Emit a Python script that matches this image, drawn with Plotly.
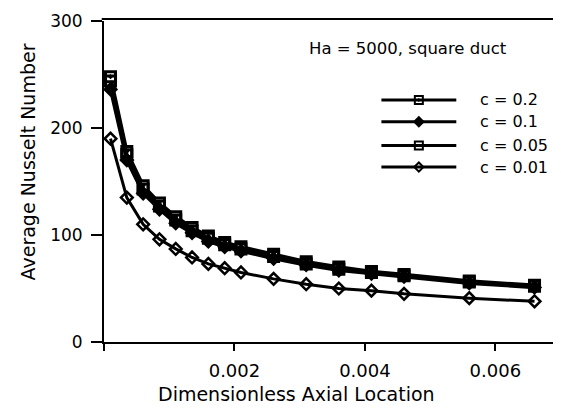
import plotly.graph_objects as go

# Data
x_loc = [0.0001, 0.00035, 0.0006, 0.00085, 0.0011, 0.00135, 0.0016, 0.00185,
         0.0021, 0.0026, 0.0031, 0.0036, 0.0041, 0.0046, 0.0056, 0.0066]
nu_c02 = [248, 178, 146, 130, 117, 107, 99, 93, 89, 82, 75, 70, 66, 63, 57, 53]
nu_c01 = [236, 170, 139, 124, 111, 102, 94, 89, 85, 78, 72, 67, 64, 61, 55, 51]
nu_c005 = [244, 175, 143, 127, 114, 104, 97, 91, 87, 80, 73, 68, 65, 62, 56, 52]
nu_c001 = [190, 135, 110, 96, 87, 79, 73, 69, 65, 59, 54, 50, 48, 45, 41, 38]

series_names = ["c = 0.2", "c = 0.1", "c = 0.05", "c = 0.01"]
series_vals = [nu_c02, nu_c01, nu_c005, nu_c001]
x_ticks = [0, 0.002, 0.004, 0.006]
x_tick_text = ["", "0.002", "0.004", "0.006"]
y_ticks = [0, 100, 200, 300]

X_RANGE = [0, 0.00696]
Y_RANGE = [0, 300]

symbols = ["square-dot", "diamond", "square-open", "diamond-open"]
fills = ["white", "black", "black", "black"]
sizes = [10, 9, 10, 9]
widths = [3.5, 3.5, 3.5, 3]
mlw = [3, 2.5, 3, 2.5]

FONT = "DejaVu Sans, Verdana, sans-serif"

fig = go.Figure()
for name, vals, sym, fc, sz, lw, ml in zip(series_names, series_vals, symbols, fills, sizes, widths, mlw):
    fig.add_trace(go.Scatter(
        x=x_loc, y=vals, mode="lines+markers", name=name, showlegend=False,
        line=dict(color="black", width=lw),
        marker=dict(symbol=sym, size=sz, color=fc, line=dict(color="black", width=ml)),
    ))

# Custom legend with long line samples (positions as fractions of the plot area)
leg_fx0, leg_fx1 = 0.611, 0.776
leg_rows = [0.754, 0.686, 0.612, 0.545]


def fx(f):
    return X_RANGE[0] + f * (X_RANGE[1] - X_RANGE[0])


def fy(f):
    return Y_RANGE[0] + f * (Y_RANGE[1] - Y_RANGE[0])


for name, sym, fc, sz, frow in zip(series_names, symbols, fills, sizes, leg_rows):
    fig.add_shape(type="line", xref="paper", yref="paper",
                  x0=leg_fx0, x1=leg_fx1, y0=frow, y1=frow,
                  line=dict(color="black", width=3))
    fig.add_trace(go.Scatter(
        x=[fx((leg_fx0 + leg_fx1) / 2)], y=[fy(frow)], mode="markers",
        marker=dict(symbol=sym, size=sz - 2, color=fc, line=dict(color="black", width=2)),
        showlegend=False, hoverinfo="skip", cliponaxis=False))
    fig.add_annotation(x=0.824, y=frow, xref="paper", yref="paper", text=name,
                       showarrow=False, xanchor="left", yanchor="middle",
                       font=dict(family=FONT, size=16, color="black"))

fig.add_annotation(x=0.447, y=0.914, xref="paper", yref="paper",
                   text="Ha = 5000, square duct", showarrow=False,
                   xanchor="left", yanchor="middle",
                   font=dict(family=FONT, size=16.5, color="black"))

# Axis titles
fig.add_annotation(x=0.423, y=-0.163, xref="paper", yref="paper",
                   text="Dimensionless Axial Location", showarrow=False,
                   xanchor="center", yanchor="middle",
                   font=dict(family=FONT, size=19, color="black"))
fig.add_annotation(x=-0.167, y=0.56, xref="paper", yref="paper",
                   text="Average Nusselt Number", showarrow=False, textangle=-90,
                   xanchor="center", yanchor="middle",
                   font=dict(family=FONT, size=19, color="black"))

# Frame (top edge and a short piece of the right edge)
fig.add_shape(type="line", xref="paper", yref="paper", x0=-0.005, x1=1.0, y0=1.006, y1=1.006,
              line=dict(color="black", width=2))
fig.add_shape(type="line", xref="paper", yref="paper", x0=1.0, x1=1.0, y0=0.9, y1=1.006,
              line=dict(color="black", width=2))

# The page has an 8px body margin, so the figure is 8px smaller than the window
fig.update_layout(
    width=553, height=407,
    margin=dict(l=96, r=3, t=9, b=73),
    paper_bgcolor="white", plot_bgcolor="white",
    font=dict(family=FONT, size=17, color="black"),
    xaxis=dict(range=X_RANGE, tickvals=x_ticks, ticktext=x_tick_text,
               showline=True, linecolor="black", linewidth=2,
               ticks="outside", ticklen=7, tickwidth=2, tickcolor="black",
               showgrid=False, zeroline=False, ticklabelstandoff=4,
               ticklabeloverflow="allow", tickfont=dict(size=18)),
    yaxis=dict(range=Y_RANGE, tickvals=y_ticks,
               showline=True, linecolor="black", linewidth=2,
               ticks="outside", ticklen=11, tickwidth=2, tickcolor="black",
               showgrid=False, zeroline=False, ticklabelstandoff=5,
               ticklabeloverflow="allow", tickfont=dict(size=17)),
)

fig.write_html("out.html")
